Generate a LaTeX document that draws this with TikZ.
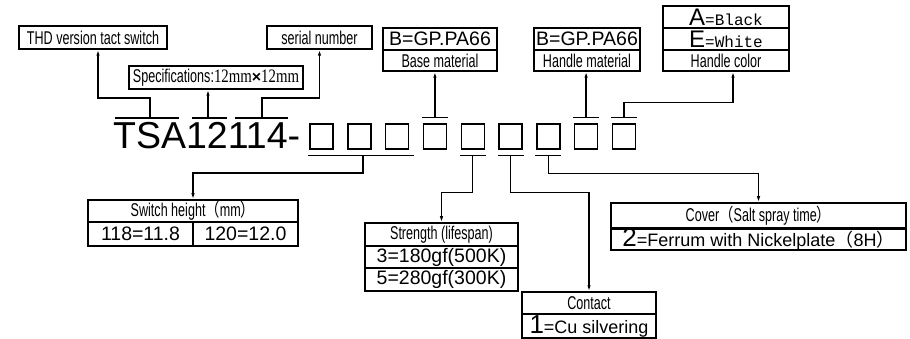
\documentclass[tikz,border=0pt]{standalone}
\usepackage{fontspec}
\setmainfont{Liberation Sans}
\newfontfamily\nar[FakeStretch=0.68]{Liberation Sans}
\newfontfamily\mon{Liberation Mono}
\newfontfamily\ser[FakeStretch=0.78]{Liberation Serif}
\newfontfamily\cjk{Noto Sans CJK SC}
\newfontfamily\cjknar[FakeStretch=0.8]{Noto Sans CJK SC}
\usetikzlibrary{arrows.meta}
\newcommand\fs[1]{\fontsize{#1}{#1}\selectfont}
\begin{document}
\begin{tikzpicture}[x=1pt,y=-1pt,
  box/.style={draw, line width=1.5pt, inner sep=0pt, anchor=center},
  lab/.style={box, font=\nar\fs{18.5}},
  big/.style={box, font=\fs{19.5}},
  sq/.style={draw, line width=1.4pt, minimum width=23pt, minimum height=25pt, inner sep=0pt},
  bar/.style={line width=1.5pt},
  conn/.style={line width=1.5pt, -{Latex[length=6pt,width=3.5pt]}},
]
\useasboundingbox (0,0) rectangle (910,339);

% title and code squares
\node[anchor=base west, font=\fs{37.5}, inner sep=0pt] (title) at (113,149) {TSA12114-};
\foreach \k in {1,...,9} \node[sq] (s\k) at ({321.5+(\k-1)*37.8},136.5) {};

% bars over the title
\coordinate (tTSA) at (150,118);
\coordinate (t12) at (208,118);
\coordinate (t114) at (262,118);
\draw[bar] (115,118) -- (179,118);
\draw[bar] (192,118) -- (227,118);
\draw[bar] (235,118) -- (288,118);

% bars over / under squares
\foreach \k in {4,8,9} {
  \coordinate (b\k) at ([yshift=6pt]s\k.north);
  \draw[bar] ([xshift=-13pt]b\k) -- ([xshift=13pt]b\k);
}
\foreach \k in {5,6,7} {
  \coordinate (b\k) at ([yshift=-6pt]s\k.south);
  \draw[bar] ([xshift=-13pt]b\k) -- ([xshift=13pt]b\k);
}
\coordinate (b123) at (363,155);
\draw[bar] ([xshift=-1pt,yshift=-6pt]s1.south west) -- ([xshift=5pt,yshift=-6pt]s3.south east);

% top boxes
\node[lab, minimum width=148pt, minimum height=23pt] (thd) at (93,37.5) {THD version tact switch};
\node[lab, minimum width=105pt, minimum height=23pt] (serial) at (319.5,37.5) {serial number};
\node[lab, minimum width=174pt, minimum height=23pt] (spec) at (216,77.5)
  {Specifications:{\ser\fs{19}12mm}{\normalfont\bfseries\fs{16}×}{\ser\fs{19}12mm}};

\node[big, minimum width=114pt, minimum height=22pt] (base1) at (440,39) {B=GP.PA66};
\node[lab, minimum width=114pt, minimum height=21pt] (base2) at (440,60.5) {Base material};

\node[big, minimum width=106pt, minimum height=22pt] (hm1) at (587,39) {B=GP.PA66};
\node[lab, minimum width=106pt, minimum height=21pt] (hm2) at (587,60.5) {Handle material};

\node[box, minimum width=126pt, minimum height=22pt] (hc1) at (726,17) {{\fs{24}A}{\mon\fs{16}=Black}};
\node[box, minimum width=126pt, minimum height=22pt] (hc2) at (726,39) {{\fs{24}E}{\mon\fs{16}=White}};
\node[lab, minimum width=126pt, minimum height=21pt] (hc3) at (726,60.5) {Handle color};

% bottom boxes
\node[lab, minimum width=210pt, minimum height=22pt] (sh1) at (193,211) {Switch height{\cjknar\fs{18}（}mm{\cjknar\fs{18}）}};
\node[big, minimum width=105pt, minimum height=24pt] (sh2a) at (140.5,234) {118=11.8};
\node[big, minimum width=105pt, minimum height=24pt] (sh2b) at (245.5,234) {120=12.0};

\node[lab, minimum width=153pt, minimum height=23pt] (st1) at (441.5,234.5) {Strength (lifespan)};
\node[big, minimum width=153pt, minimum height=22pt] (st2) at (441.5,257) {3=180gf(500K)};
\node[big, minimum width=153pt, minimum height=23pt] (st3) at (441.5,279.5) {5=280gf(300K)};

\node[lab, minimum width=134pt, minimum height=22pt] (ct1) at (589,303) {Contact};
\node[box, minimum width=134pt, minimum height=24pt] (ct2) at (589,326) {{\fs{26}1}{\fs{18}=Cu silvering}};

\node[lab, minimum width=295pt, minimum height=26pt] (cv1) at (758.5,216) {Cover{\cjknar\fs{18}（}Salt spray time{\cjknar\fs{18}）}};
\node[box, minimum width=295pt, minimum height=20pt] (cv2) at (758.5,239) {{\fs{26}2}{\fs{18}=Ferrum with Nickelplate{\cjk（}8H{\cjk）}}};

% connectors
\draw[conn] (tTSA) -- ++(0,-20) -| ([xshift=5pt]thd.south);
\draw[conn] (t12) -- (t12 |- spec.south);
\draw[conn] (t114) -- ++(0,-20) -| (serial.south);
\draw[conn] (b4) -- (b4 |- base2.south);
\draw[conn] (b8) -- (b8 |- hm2.south);
\draw[conn] (b9) -- ++(0,-15) -| ([xshift=7pt]hc3.south);
\draw[conn] (b123) -- ++(0,18) -| (sh1.north);
\draw[conn] (b5) -- ++(0,37) -| (st1.north);
\draw[conn] (b6) -- ++(0,37) -| (ct1.north);
\draw[conn] (b7) -- ++(0,18) -| (cv1.north);
\end{tikzpicture}
\end{document}
